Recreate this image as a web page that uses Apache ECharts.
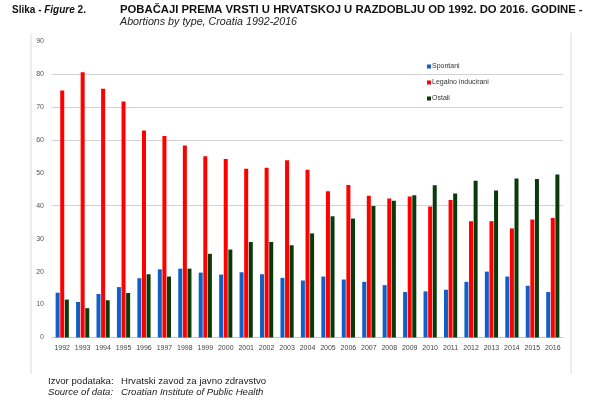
<!DOCTYPE html>
<html>
<head>
<meta charset="utf-8">
<script src="https://cdn.jsdelivr.net/npm/echarts@6/dist/echarts.min.js"></script>
<style>
html,body{margin:0;padding:0;background:#fff;}
#c{width:600px;height:400px;}
</style>
</head>
<body>
<div id="c"></div>
<script>
const years = ['1992','1993','1994','1995','1996','1997','1998','1999','2000','2001','2002','2003','2004','2005','2006','2007','2008','2009','2010','2011','2012','2013','2014','2015','2016'];
const seriesNames = ['Spontani','Legalno inducirani','Ostali'];
const spontani = [13.6,10.8,13.2,15.3,18.0,20.7,20.9,19.7,19.1,19.8,19.2,18.1,17.3,18.5,17.6,16.9,15.9,13.8,14.0,14.5,16.9,20.0,18.5,15.7,13.8];
const legalno = [75.0,80.5,75.5,71.6,62.8,61.2,58.3,55.0,54.2,51.2,51.5,53.8,50.9,44.4,46.3,43.0,42.2,42.8,39.8,41.7,35.3,35.3,33.1,35.8,36.3];
const ostali = [11.5,8.9,11.3,13.5,19.2,18.5,20.9,25.4,26.7,29.0,29.0,28.0,31.6,36.8,36.1,39.9,41.5,43.2,46.2,43.7,47.6,44.6,48.3,48.1,49.5];
const gridValues = [40,60,70,80];
const colors = ['#1060c8','#ff0000','#0a3a0a'];

const chart = echarts.init(document.getElementById('c'), null, {renderer:'canvas'});
const F = 'Liberation Sans';
chart.setOption({
  animation:false,
  backgroundColor:'#fff',
  textStyle:{fontFamily:F},
  title:[
    {text:'{b|Slika - }{i|Figure}{b| 2.}', left:12, top:5, padding:0,
     textStyle:{rich:{b:{fontWeight:'bold',fontSize:10,color:'#111',fontFamily:F},i:{fontStyle:'italic',fontSize:10,color:'#111',fontFamily:F}}}},
    {text:'POBAČAJI PREMA VRSTI U HRVATSKOJ U RAZDOBLJU OD 1992. DO 2016. GODINE -', left:120, top:4, padding:0,
     textStyle:{fontWeight:'bold',fontSize:11.3,color:'#111',fontFamily:F}},
    {text:'Abortions by type, Croatia 1992-2016', left:120, top:17, padding:0,
     textStyle:{fontStyle:'italic',fontWeight:'normal',fontSize:10.7,color:'#222',fontFamily:F}},
    {text:'Izvor podataka:', left:48, top:376, padding:0, textStyle:{fontWeight:'normal',fontSize:9.6,color:'#222',fontFamily:F}},
    {text:'Hrvatski zavod za javno zdravstvo', left:121, top:376, padding:0, textStyle:{fontWeight:'normal',fontSize:9.6,color:'#222',fontFamily:F}},
    {text:'Source of data:', left:48, top:387, padding:0, textStyle:{fontStyle:'italic',fontWeight:'normal',fontSize:9.6,color:'#222',fontFamily:F}},
    {text:'Croatian Institute of Public Health', left:121, top:387, padding:0, textStyle:{fontStyle:'italic',fontWeight:'normal',fontSize:9.6,color:'#222',fontFamily:F}}
  ],
  graphic:[
    {type:'line', shape:{x1:31,y1:33,x2:31,y2:374}, style:{stroke:'#dcdcdc',lineWidth:1}, silent:true},
    {type:'line', shape:{x1:571,y1:33,x2:571,y2:374}, style:{stroke:'#dcdcdc',lineWidth:1}, silent:true}
  ],
  legend:{
    orient:'vertical', left:427, top:63, padding:0, itemWidth:4, itemHeight:4, itemGap:9,
    icon:'rect', data:seriesNames,
    textStyle:{fontSize:7,color:'#333',padding:[0,0,0,-4]}
  },
  grid:{left:52, right:37, top:41, bottom:62.5},
  xAxis:{
    type:'category', data:years,
    axisTick:{show:false},
    axisLine:{lineStyle:{color:'#c8c8c8'}},
    axisLabel:{fontSize:7,color:'#444',margin:7,interval:0}
  },
  yAxis:{
    type:'value', min:0, max:90, interval:10,
    axisLine:{show:false}, axisTick:{show:false},
    axisLabel:{fontSize:7,color:'#555',margin:8},
    splitLine:{show:false}
  },
  series:[
    {name:seriesNames[0], type:'bar', data:spontani, barWidth:4, barGap:'15%', itemStyle:{color:colors[0]},
     markLine:{silent:true, z:1, symbol:['none','none'], label:{show:false},
       lineStyle:{type:'solid',color:'#d2d2d2',width:1},
       data:gridValues.map(v=>({yAxis:v}))}},
    {name:seriesNames[1], type:'bar', data:legalno, barWidth:4, barGap:'15%', itemStyle:{color:colors[1]}},
    {name:seriesNames[2], type:'bar', data:ostali, barWidth:4, barGap:'15%', itemStyle:{color:colors[2]}}
  ]
});
</script>
</body>
</html>
